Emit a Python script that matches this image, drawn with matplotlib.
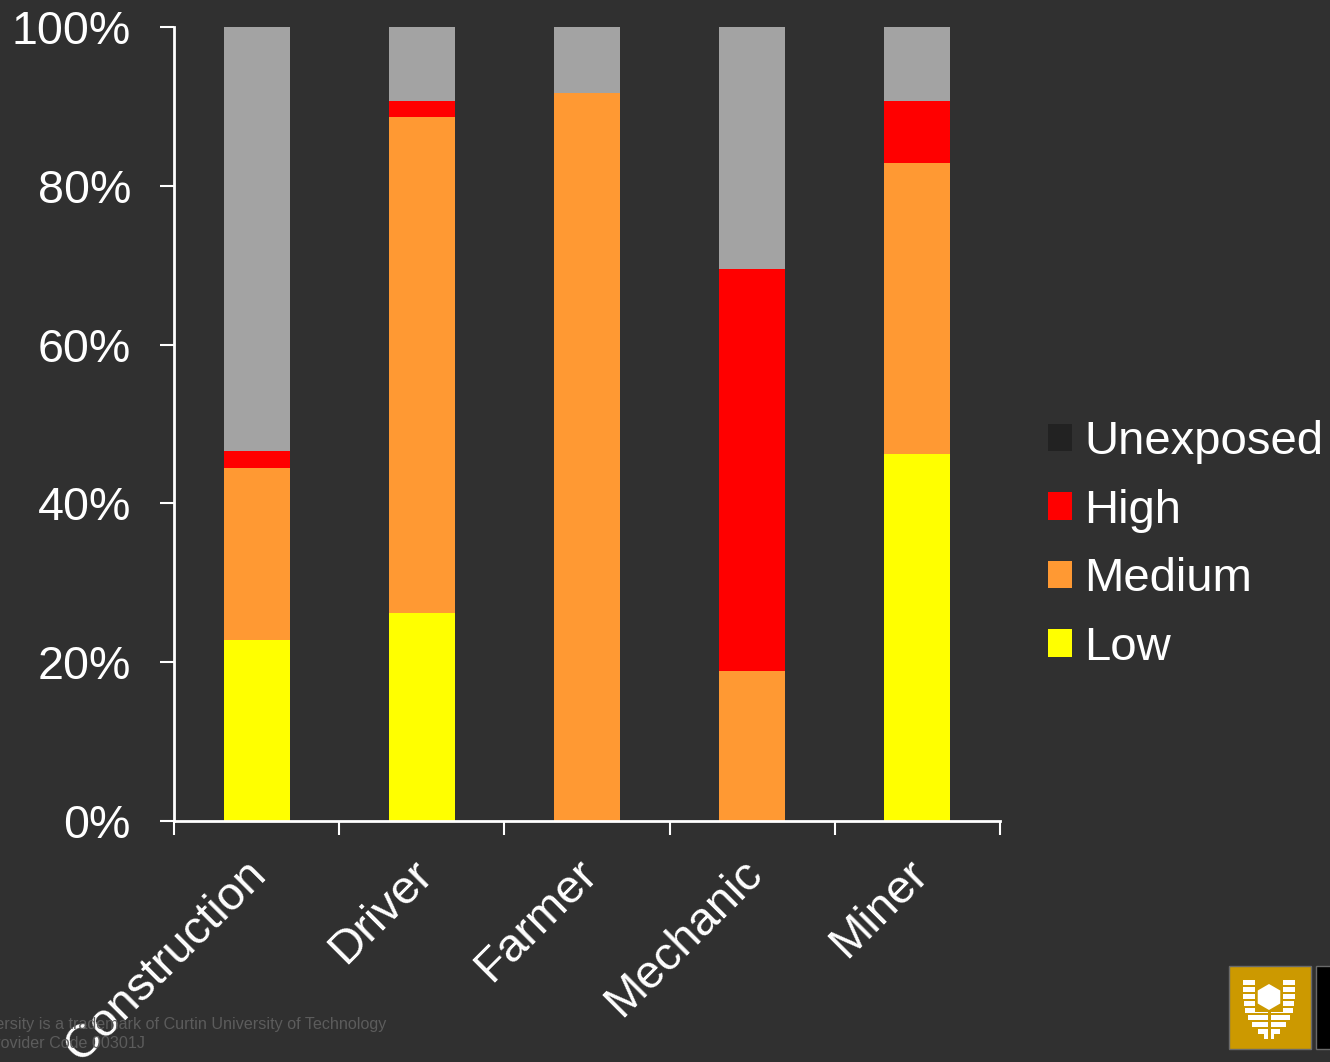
import matplotlib
matplotlib.use("Agg")
import matplotlib.pyplot as plt
import matplotlib.transforms as mtransforms
import numpy as np
from matplotlib.patches import Patch, Rectangle, Polygon

plt.rcParams['font.family'] = ['Liberation Sans', 'DejaVu Sans']

# Exposure level share (%) by occupation
categories = ["Construction", "Driver", "Farmer", "Mechanic", "Miner"]
low = [22.8, 26.2, 0.0, 0.0, 46.2]
medium = [21.7, 62.5, 91.7, 18.9, 36.7]
high = [2.1, 2.0, 0.0, 50.6, 7.8]
unexposed = [53.4, 9.3, 8.3, 30.5, 9.3]
y_ticks = [0, 20, 40, 60, 80, 100]
y_tick_labels = ["0%", "20%", "40%", "60%", "80%", "100%"]

BG = "#303030"
C_LOW = "#ffff00"
C_MED = "#ff9933"
C_HIGH = "#ff0000"
C_UNEXP_BAR = "#a3a3a3"
C_UNEXP_KEY = "#222222"

W, H = 1330, 1062
fig = plt.figure(figsize=(W / 100, H / 100), dpi=100, facecolor=BG)
ax = fig.add_axes([174 / W, 1 - 821 / H, (1000 - 174) / W, (821 - 27) / H])
ax.set_facecolor(BG)

x = np.arange(len(categories))
bw = 0.4
b0 = np.zeros(len(categories))
for vals, col in [(low, C_LOW), (medium, C_MED), (high, C_HIGH), (unexposed, C_UNEXP_BAR)]:
    ax.bar(x, vals, bw, bottom=b0, color=col, linewidth=0)
    b0 = b0 + np.array(vals)

ax.set_xlim(-0.5, len(categories) - 0.5)
ax.set_ylim(0, 100)

for s in ["top", "right"]:
    ax.spines[s].set_visible(False)
for s in ["left", "bottom"]:
    ax.spines[s].set_color("white")
    ax.spines[s].set_linewidth(2)

ax.set_yticks(y_ticks)
ax.set_yticklabels(y_tick_labels)
ax.tick_params(axis="y", colors="white", labelcolor="white", labelsize=33.6,
               length=10, width=1.5, pad=21, direction="out")

# category boundary ticks on x, labels at bar centres
ax.set_xticks(np.arange(-0.5, len(categories), 1.0))
ax.set_xticklabels([])
ax.tick_params(axis="x", which="major", colors="white", length=10, width=1.5, direction="out")
ax.set_xticks(x, minor=True)
ax.set_xticklabels(categories, minor=True, rotation=45, ha="right", fontsize=34, color="white")
ax.tick_params(axis="x", which="minor", length=0, pad=22)
shift = mtransforms.ScaledTranslation(19 / 100, 0, fig.dpi_scale_trans)
for lbl in ax.get_xticklabels(minor=True):
    lbl.set_transform(lbl.get_transform() + shift)

handles = [Patch(facecolor=C_UNEXP_KEY, edgecolor="none"),
           Patch(facecolor=C_HIGH, edgecolor="none"),
           Patch(facecolor=C_MED, edgecolor="none"),
           Patch(facecolor=C_LOW, edgecolor="none")]
leg = fig.legend(handles, ["Unexposed", "High", "Medium", "Low"],
                 loc="center left", bbox_to_anchor=(1048 / W, 1 - 545 / H),
                 frameon=False, fontsize=34, handlelength=0.51, handleheight=0.51,
                 handletextpad=0.25, labelspacing=0.52, borderpad=0, borderaxespad=0)
for t in leg.get_texts():
    t.set_color("white")

# footer lines
fig.text(386 / W, 1 - 1025 / H,
         "Curtin University is a trademark of Curtin University of Technology",
         fontsize=11.6, color="#5c5c5c", va="center", ha="right")
fig.text(145 / W, 1 - 1044 / H, "CRICOS Provider Code 00301J",
         fontsize=11.6, color="#5c5c5c", va="center", ha="right")

# crest badge in pixel coordinates
ov = fig.add_axes([0, 0, 1, 1], facecolor="none")
ov.set_xlim(0, W)
ov.set_ylim(H, 0)
ov.axis("off")
ov.add_patch(Rectangle((1229, 966), 82, 83, facecolor="#cc9900", edgecolor="#6a6a6a", linewidth=1))
ov.add_patch(Rectangle((1316, 966), 20, 83, facecolor="#000000", edgecolor="#6a6a6a", linewidth=1))
cx = 1269
stripe_y = [982, 989, 996, 1003, 1010, 1017, 1024, 1031, 1036]
half_w = [26, 26, 26, 25, 24, 21, 17, 11, 5]
for yy, hw in zip(stripe_y, half_w):
    ov.add_patch(Rectangle((cx - hw, yy - 2.5), 2 * hw, 5, facecolor="white", edgecolor="none"))
# gaps around hexagon and centre line
ov.add_patch(Rectangle((cx - 14, 979), 28, 33, facecolor="#cc9900", edgecolor="none"))
ov.add_patch(Rectangle((cx - 1.5, 1012), 3, 28, facecolor="#cc9900", edgecolor="none"))
ang = np.deg2rad(np.arange(90, 450, 60))
hexpts = np.column_stack([cx + 13 * np.cos(ang), 997 + 13 * np.sin(ang)])
ov.add_patch(Polygon(hexpts, closed=True, facecolor="white", edgecolor="none"))

fig.savefig("out.png", dpi=100, facecolor=BG)
